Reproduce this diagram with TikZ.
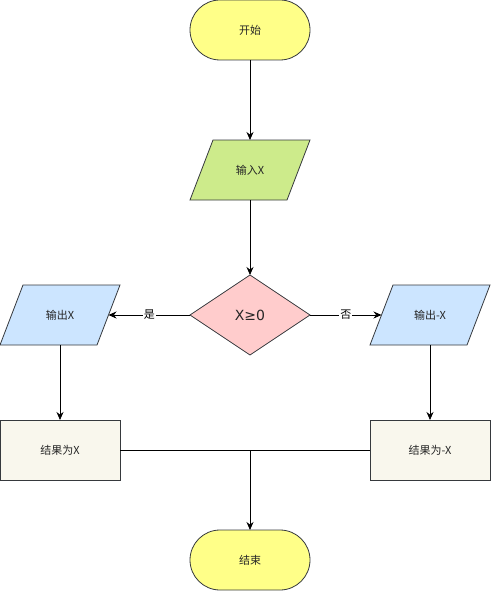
\documentclass[tikz,border=0pt]{standalone}
\usepackage{fontspec}
\setmainfont{Noto Sans CJK SC}
\newfontfamily\latinsans{DejaVu Sans}
\usetikzlibrary{shapes.geometric,arrows.meta,backgrounds}
\definecolor{strk}{HTML}{36393D}
\definecolor{termfill}{HTML}{FFFF88}
\definecolor{infill}{HTML}{CDEB8B}
\definecolor{decfill}{HTML}{FFCCCC}
\definecolor{outfill}{HTML}{CCE5FF}
\definecolor{resfill}{HTML}{F9F7ED}
\begin{document}
\begin{tikzpicture}[x=1pt,y=-1pt,
  base/.style={draw=strk,line width=0.8pt,inner sep=0pt,outer sep=0pt,font=\fontsize{11pt}{13pt}\selectfont,text=black!85},
  term/.style={base,fill=termfill,rectangle,rounded corners=30pt,minimum width=120pt,minimum height=60pt},
  parabox/.style={base,draw=none,rectangle,minimum width=120pt,minimum height=60pt},
  pg/.style={draw=strk,line width=0.8pt,line join=miter},
  dec/.style={base,fill=decfill,diamond,minimum width=120pt,minimum height=80pt,font=\latinsans\fontsize{14pt}{18pt}\selectfont},
  res/.style={base,fill=resfill,rectangle,minimum width=120pt,minimum height=60pt},
  arr/.style={line width=0.8pt,-{Stealth[length=8pt,width=7pt]}},
  ln/.style={line width=0.8pt},
  lbl/.style={fill=white,inner sep=1pt,font=\fontsize{11pt}{13pt}\selectfont}]
\useasboundingbox (0,0) rectangle (491,591);
\node[term] (start) at (250,30) {开始};
\node[parabox] (input) at (250,170) {输入X};
\node[dec] (cond) at (250,315) {X≥0};
\node[parabox] (outx) at (60,315) {输出X};
\node[parabox] (outnx) at (430,315) {输出-X};
\node[res] (resx) at (60,450) {结果为X};
\node[res] (resnx) at (430,450) {结果为-X};
\node[term] (stop) at (250,560) {结束};
\begin{scope}[on background layer]
\foreach \n/\c in {input/infill,outx/outfill,outnx/outfill}{
  \path[pg,fill=\c] ([xshift=23pt]\n.north west) -- (\n.north east) -- ([xshift=-23pt]\n.south east) -- (\n.south west) -- cycle;
}
\end{scope}
\draw[arr] (start) -- (input);
\draw[arr] (input) -- (cond);
\draw[arr] (cond.west) -- node[lbl] {是} ([xshift=-11.5pt]outx.east);
\draw[arr] (cond.east) -- node[lbl] {否} ([xshift=11.5pt]outnx.west);
\draw[arr] (outx) -- (resx);
\draw[arr] (outnx) -- (resnx);
\draw[ln] (resx.east) -- (resnx.west);
\draw[arr] (resx.east -| stop.north) -- (stop);
\end{tikzpicture}
\end{document}
